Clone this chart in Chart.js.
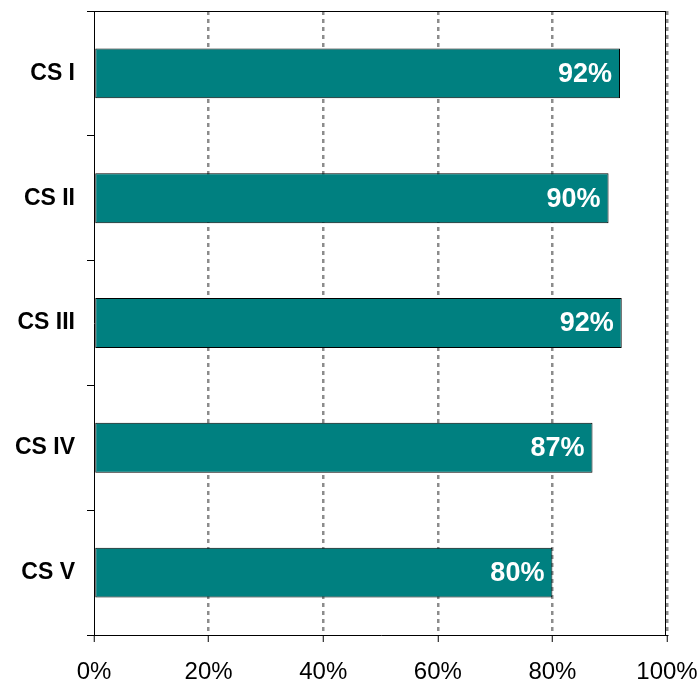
<!DOCTYPE html>
<html>
<head>
<meta charset="utf-8">
<script src="https://cdn.jsdelivr.net/npm/chart.js@4/dist/chart.umd.min.js"></script>
<style>
html,body{margin:0;padding:0;background:#fff;}
#wrap{width:699px;height:681px;}
</style>
</head>
<body>
<div id="wrap"><canvas id="c" width="699" height="681"></canvas></div>
<script>
const categories = ["CS I", "CS II", "CS III", "CS IV", "CS V"];
const values = [91.8, 89.8, 92.1, 87.0, 80.0];
const valueLabels = ["92%", "90%", "92%", "87%", "80%"];
const xTicks = [0, 20, 40, 60, 80, 100];

const frame = {
  id: 'frame',
  afterDatasetsDraw(chart) {
    const a = chart.chartArea, ctx = chart.ctx;
    ctx.save();
    ctx.strokeStyle = '#000';
    ctx.lineWidth = 1;
    ctx.beginPath();
    ctx.moveTo(a.left, a.top + 0.5);
    ctx.lineTo(a.right - 1, a.top + 0.5);
    ctx.moveTo(a.right - 1.5, a.top);
    ctx.lineTo(a.right - 1.5, a.bottom);
    ctx.stroke();
    ctx.restore();
  }
};

const valueLabelPlugin = {
  id: 'valueLabels',
  afterDatasetsDraw(chart) {
    const ctx = chart.ctx;
    const meta = chart.getDatasetMeta(0);
    ctx.save();
    ctx.fillStyle = '#fff';
    ctx.font = 'bold 27px "Liberation Sans", Arial, sans-serif';
    ctx.textAlign = 'right';
    ctx.textBaseline = 'middle';
    meta.data.forEach((bar, i) => {
      ctx.fillText(valueLabels[i], bar.x - 8, bar.y + 1);
    });
    ctx.restore();
  }
};

new Chart(document.getElementById('c'), {
  type: 'bar',
  data: {
    labels: categories,
    datasets: [{
      data: values,
      backgroundColor: '#008080',
      borderColor: '#000',
      borderWidth: 1,
      borderSkipped: false,
      barPercentage: 0.4,
      categoryPercentage: 1.0
    }]
  },
  options: {
    indexAxis: 'y',
    responsive: false,
    animation: false,
    devicePixelRatio: 1,
    layout: { padding: { top: 11, right: 32, left: 0, bottom: 0 } },
    plugins: { legend: { display: false }, tooltip: { enabled: false } },
    scales: {
      x: {
        min: 0, max: 100,
        afterFit(s) { s.height = 46; s.paddingTop = 0; s.paddingBottom = 0; s.paddingLeft = 0; s.paddingRight = 0; },
        afterBuildTicks(s) { s.ticks = xTicks.map(v => ({ value: v })); },
        border: { color: '#000', width: 1, dash: [4, 4] },
        grid: {
          color: (c) => (c.tick && c.tick.value === 0) ? 'rgba(0,0,0,0)' : '#8c8c8c',
          lineWidth: 2.5,
          tickColor: '#000',
          tickWidth: 1,
          tickLength: 7,
          tickBorderDash: [],
          drawOnChartArea: true
        },
        ticks: {
          color: '#000',
          padding: 16,
          maxRotation: 0,
          font: { family: '"Liberation Sans", Arial, sans-serif', size: 24 },
          callback: (v) => v + '%'
        }
      },
      y: {
        afterFit(s) { s.width = 94; s.paddingTop = 0; s.paddingBottom = 0; s.paddingLeft = 0; s.paddingRight = 0; },
        border: { color: '#000', width: 1 },
        grid: {
          drawOnChartArea: false,
          offset: true,
          tickColor: '#000',
          tickLength: 7,
          tickWidth: 1
        },
        ticks: {
          color: '#000',
          padding: 12,
          font: { family: '"Liberation Sans", Arial, sans-serif', size: 23, weight: 'bold' }
        }
      }
    }
  },
  plugins: [frame, valueLabelPlugin]
});
</script>
</body>
</html>
